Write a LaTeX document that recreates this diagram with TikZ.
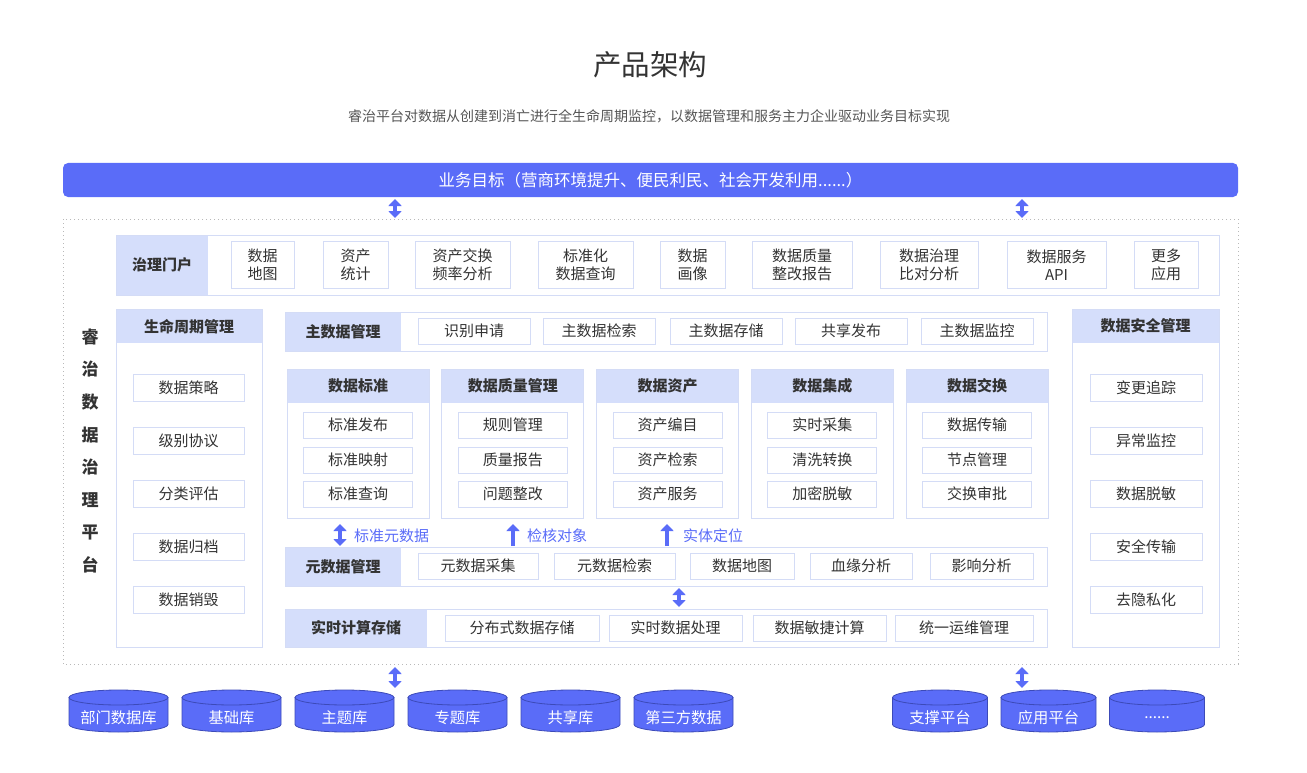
\documentclass[tikz,border=0pt]{standalone}
\usepackage{fontspec}
\setmainfont{Noto Sans CJK SC}
\usetikzlibrary{arrows.meta}
\definecolor{mainblue}{HTML}{5A6CF8}
\definecolor{darkblue}{HTML}{3C4AB8}
\definecolor{headblue}{HTML}{D5DEFB}
\definecolor{lineblue}{HTML}{D4DCF6}
\definecolor{txtgray}{HTML}{333333}
\definecolor{subgray}{HTML}{555555}
\tikzset{
  cell/.style={draw=lineblue, line width=0.8pt, fill=white, inner sep=0pt, text=txtgray,
    align=center, font=\fontsize{15}{18}\selectfont},
  headcell/.style={fill=headblue, inner sep=0pt, text=txtgray, font=\bfseries\fontsize{15}{17}\selectfont},
  frame/.style={draw=lineblue, line width=0.8pt},
  dotframe/.style={draw=gray!55, line width=1pt, dash pattern=on 0.8pt off 3.2pt},
  goalbar/.style={fill=mainblue, rounded corners=5pt, text=white, inner sep=0pt,
    font=\fontsize{16.5}{18}\selectfont},
  dblarrow/.style={mainblue, line width=4.5pt,
    {Triangle[width=13pt,length=7pt]}-{Triangle[width=13pt,length=7pt]}},
  uparrow/.style={mainblue, line width=4.5pt, -{Triangle[width=13pt,length=7pt]}},
  tagtext/.style={text=mainblue, anchor=west, inner sep=0pt, font=\fontsize{15}{17}\selectfont},
  cylbody/.style={fill=mainblue, draw=darkblue, line width=0.8pt},
  cyltext/.style={text=white, inner sep=0pt, font=\fontsize{15.3}{17}\selectfont}
}
\newcommand\dbcyl[4]{%
  \draw[cylbody] ({#2-#3},697.5) -- ({#2-#3},724.5)
    arc[start angle=180, end angle=360, x radius=#3pt, y radius=7.5pt] -- ({#2+#3},697.5) -- cycle;
  \draw[cylbody] (#2,697.5) ellipse[x radius=#3pt, y radius=7.5pt];
  \node[cyltext] (#1) at (#2,718) {#4};
}

\begin{document}
\begin{tikzpicture}[x=1pt,y=-1pt]
\useasboundingbox (0,0) rectangle (1307,773);

\node[text=txtgray, font=\fontsize{28.5}{30}\selectfont] (title) at (650,65) {产品架构};
\node[text=subgray, font=\fontsize{14}{16}\selectfont] (subtitle) at (649,116)
  {睿治平台对数据从创建到消亡进行全生命周期监控，以数据管理和服务主力企业驱动业务目标实现};

\node[goalbar, minimum width=1175pt, minimum height=34pt] (goal) at (650.5,180)
  {业务目标（营商环境提升、便民利民、社会开发利用......）};

\draw[dotframe] (63,219) rectangle (1238,664);

\node[text=txtgray, align=center, font=\bfseries\fontsize{17}{32.6}\selectfont] (platform) at (90,451)
  {睿\\治\\数\\据\\治\\理\\平\\台};

% governance portal
\node[headcell, anchor=north west, minimum width=92pt, minimum height=60pt] (portal) at (116,235) {治理门户};
\draw[frame] (116,235) rectangle (1219,295);
\foreach \nm/\cx/\w/\txt in {p1/262.5/63/{数据\\地图}, p2/355.5/65/{资产\\统计},
    p3/462.5/95/{资产交换\\频率分析}, p4/585.5/95/{标准化\\数据查询}, p5/692.5/65/{数据\\画像},
    p6/802/100/{数据质量\\整改报告}, p7/929/98/{数据治理\\比对分析}, p8/1056.5/99/{数据服务\\API},
    p9/1166/64/{更多\\应用}}
  \node[cell, minimum width=\w pt, minimum height=47pt] (\nm) at (\cx,265) {\txt};

% lifecycle and security columns
\node[headcell, anchor=north west, minimum width=146pt, minimum height=34pt] (life) at (116,309) {生命周期管理};
\draw[frame] (116,309) rectangle (262,647);
\node[headcell, anchor=north west, minimum width=147pt, minimum height=34pt] (safe) at (1072,309) {数据安全管理};
\draw[frame] (1072,309) rectangle (1219,647);
\foreach \i/\cy/\l/\r in {1/388/数据策略/变更追踪, 2/441/级别协议/异常监控, 3/494/分类评估/数据脱敏,
    4/547/数据归档/安全传输, 5/600/数据销毁/去隐私化}{
  \node[cell, minimum width=111pt, minimum height=27pt] (life\i) at (188.5,\cy) {\l};
  \node[cell, minimum width=112pt, minimum height=27pt] (safe\i) at (1146,\cy) {\r};
}

% master data
\node[headcell, anchor=north west, minimum width=116pt, minimum height=39pt] (master) at (285,312) {主数据管理};
\draw[frame] (285,312) rectangle (1047,351);
\foreach \i/\cx/\txt in {1/474/识别申请, 2/599/主数据检索, 3/726/主数据存储, 4/851/共享发布, 5/977/主数据监控}
  \node[cell, minimum width=112pt, minimum height=26pt] (master\i) at (\cx,331) {\txt};

% modules
\foreach \i/\hd/\a/\b/\c in {0/数据标准/标准发布/标准映射/标准查询, 1/数据质量管理/规则管理/质量报告/问题整改,
    2/数据资产/资产编目/资产检索/资产服务, 3/数据集成/实时采集/清洗转换/加密脱敏,
    4/数据交换/数据传输/节点管理/交换审批}{
  \pgfmathsetmacro\lx{287+154.75*\i}
  \node[headcell, anchor=north west, minimum width=142pt, minimum height=34pt] (mod\i) at (\lx,369) {\hd};
  \draw[frame] (\lx,369) rectangle ++(142,149);
  \node[cell, minimum width=109pt, minimum height=26pt] (mod\i-1) at (\lx+71,425) {\a};
  \node[cell, minimum width=109pt, minimum height=26pt] (mod\i-2) at (\lx+71,460) {\b};
  \node[cell, minimum width=109pt, minimum height=26pt] (mod\i-3) at (\lx+71,494) {\c};
}

% metadata
\node[headcell, anchor=north west, minimum width=116pt, minimum height=39pt] (meta) at (285,547) {元数据管理};
\draw[frame] (285,547) rectangle (1047,586);
\foreach \i/\cx/\w/\txt in {1/478/120/元数据采集, 2/614.5/121/元数据检索, 3/742/104/数据地图,
    4/861/102/血缘分析, 5/981.5/103/影响分析}
  \node[cell, minimum width=\w pt, minimum height=26pt] (meta\i) at (\cx,566) {\txt};

% realtime compute
\node[headcell, anchor=north west, minimum width=142pt, minimum height=38pt] (calc) at (285,609) {实时计算存储};
\draw[frame] (285,609) rectangle (1047,647);
\foreach \i/\cx/\w/\txt in {1/522/154/分布式数据存储, 2/675.5/133/实时数据处理, 3/819.5/133/数据敏捷计算,
    4/964/138/统一运维管理}
  \node[cell, minimum width=\w pt, minimum height=26pt] (calc\i) at (\cx,628) {\txt};

% arrows
\coordinate (ga1) at (395,199); \coordinate (gb1) at (395,218);
\coordinate (ga2) at (1022,199); \coordinate (gb2) at (1022,218);
\draw[dblarrow] (ga1) -- (gb1);
\draw[dblarrow] (ga2) -- (gb2);
\coordinate (ta1) at (340,524); \coordinate (tb1) at (340,546);
\coordinate (ta2) at (513,524); \coordinate (tb2) at (513,546);
\coordinate (ta3) at (667,524); \coordinate (tb3) at (667,546);
\draw[dblarrow] (ta1) -- (tb1);
\draw[uparrow] (tb2) -- (ta2);
\draw[uparrow] (tb3) -- (ta3);
\node[tagtext] (tag1) at (354,536) {标准元数据};
\node[tagtext] (tag2) at (527,536) {检核对象};
\node[tagtext] (tag3) at (683,536) {实体定位};
\coordinate (ma) at (679,588); \coordinate (mb) at (679,607);
\draw[dblarrow] (ma) -- (mb);
\coordinate (ba1) at (395,667); \coordinate (bb1) at (395,688);
\coordinate (ba2) at (1022,667); \coordinate (bb2) at (1022,688);
\draw[dblarrow] (ba1) -- (bb1);
\draw[dblarrow] (ba2) -- (bb2);

% databases
\dbcyl{db1}{118.5}{49.5}{部门数据库}
\dbcyl{db2}{231.5}{49.5}{基础库}
\dbcyl{db3}{344.5}{49.5}{主题库}
\dbcyl{db4}{457.5}{49.5}{专题库}
\dbcyl{db5}{570.5}{49.5}{共享库}
\dbcyl{db6}{683.5}{49.5}{第三方数据}
\dbcyl{db7}{940}{47.5}{支撑平台}
\dbcyl{db8}{1048.5}{47.5}{应用平台}
\dbcyl{db9}{1157}{47.5}{......}

\end{tikzpicture}
\end{document}
